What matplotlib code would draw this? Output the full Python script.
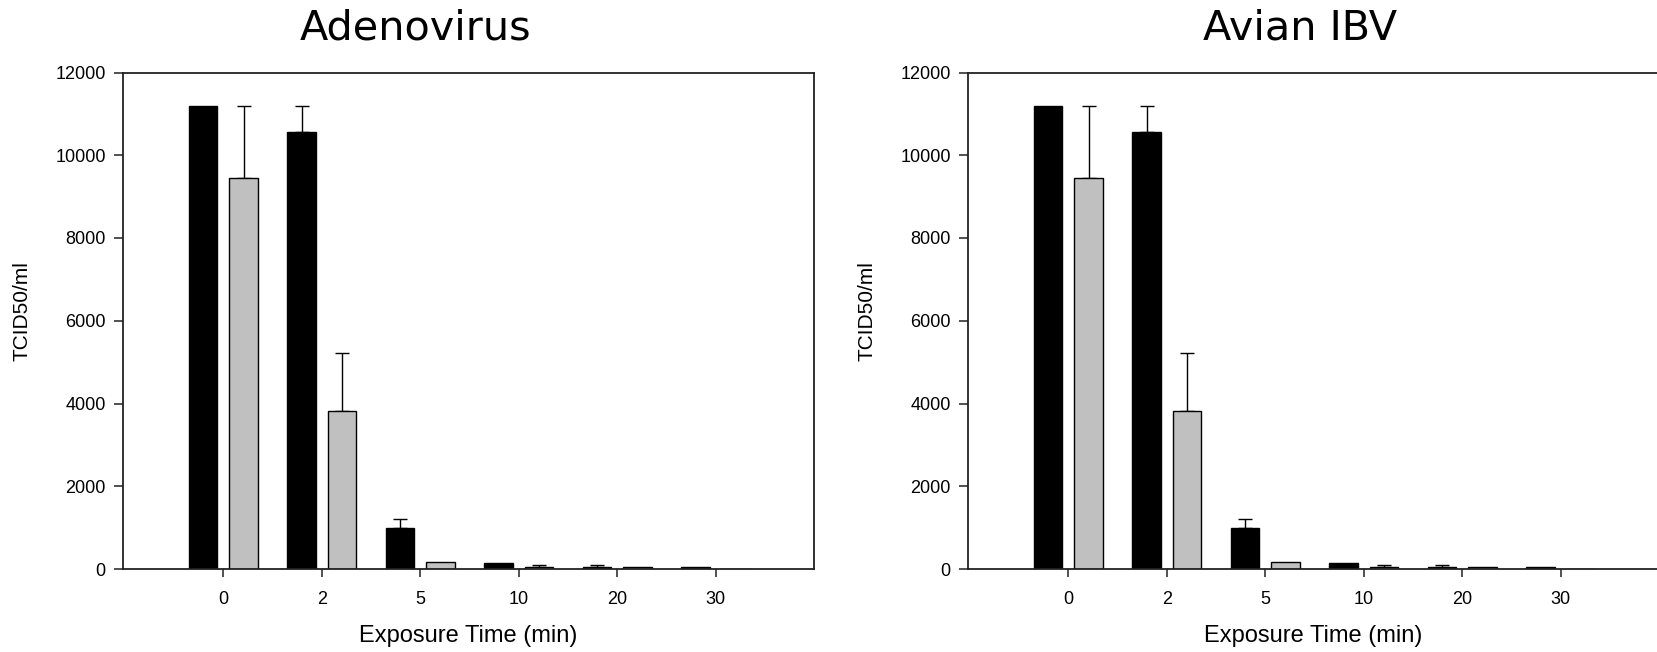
import numpy as np
import matplotlib
matplotlib.use("Agg")
import matplotlib.pyplot as plt

# exposure time categories
times = ["0", "2", "5", "10", "20", "30"]

# black series (mean, upper error)
black_vals = [11200, 10550, 980, 140, 60, 45]
black_err = [0, 650, 240, 0, 40, 0]

# grey series
grey_vals = [9450, 3830, 180, 45, 45, 0]
grey_err = [1750, 1390, 0, 55, 0, 0]

panel_titles = ["Adenovirus", "Avian IBV"]
title_x = [415, 1300]

plt.rcParams["font.family"] = ["Liberation Sans", "DejaVu Sans"]

W, H = 1657, 652
fig = plt.figure(figsize=(W / 100, H / 100), dpi=100)

ax_left_px = [123, 968]
ax_w_px = 691
ax_bottom_px = 569
ax_top_px = 72.5
spine_col = "#222222"


def draw_panel(ax):
    x = np.arange(len(times))
    w = 0.29
    off = 0.205
    ax.bar(x - off, black_vals, w, color="black", edgecolor="black", linewidth=1, zorder=2)
    ax.bar(x + off, grey_vals, w, color="#c0c0c0", edgecolor="black", linewidth=1, zorder=2)
    be = np.array(black_err)
    ge = np.array(grey_err)
    mb = be > 0
    mg = ge > 0
    ax.errorbar((x - off)[mb], np.array(black_vals)[mb], yerr=[np.zeros(mb.sum()), be[mb]],
                fmt="none", ecolor="black", elinewidth=1.0, capsize=5.3, capthick=1.0, zorder=1)
    ax.errorbar((x + off)[mg], np.array(grey_vals)[mg], yerr=[np.zeros(mg.sum()), ge[mg]],
                fmt="none", ecolor="black", elinewidth=1.0, capsize=5.3, capthick=1.0, zorder=1)
    ax.set_xlim(-1.02, 6.0)
    ax.set_ylim(0, 12000)
    ax.set_xticks(x)
    ax.set_xticklabels(times)
    ax.set_yticks(np.arange(0, 12001, 2000))
    ax.tick_params(axis="both", direction="out", width=1.1, labelsize=13,
                   colors=spine_col, labelcolor="black")
    ax.tick_params(axis="x", length=6, pad=10)
    ax.tick_params(axis="y", length=6.5, pad=6)
    for s in ax.spines.values():
        s.set_linewidth(1.3)
        s.set_color(spine_col)
    ax.set_xlabel("Exposure Time (min)", fontsize=17)
    ax.xaxis.set_label_coords(0.5, -0.113)
    ax.set_ylabel("TCID50/ml", fontsize=15)
    ax.yaxis.set_label_coords(-0.132, 0.52)


for i in range(2):
    ax = fig.add_axes([ax_left_px[i] / W, (H - ax_bottom_px) / H,
                       ax_w_px / W, (ax_bottom_px - ax_top_px) / H])
    draw_panel(ax)
    fig.text(title_x[i] / W, 1 - 40 / H, panel_titles[i], ha="center", va="baseline",
             fontsize=29.8, family="DejaVu Sans")

fig.savefig("out.png", dpi=100)
